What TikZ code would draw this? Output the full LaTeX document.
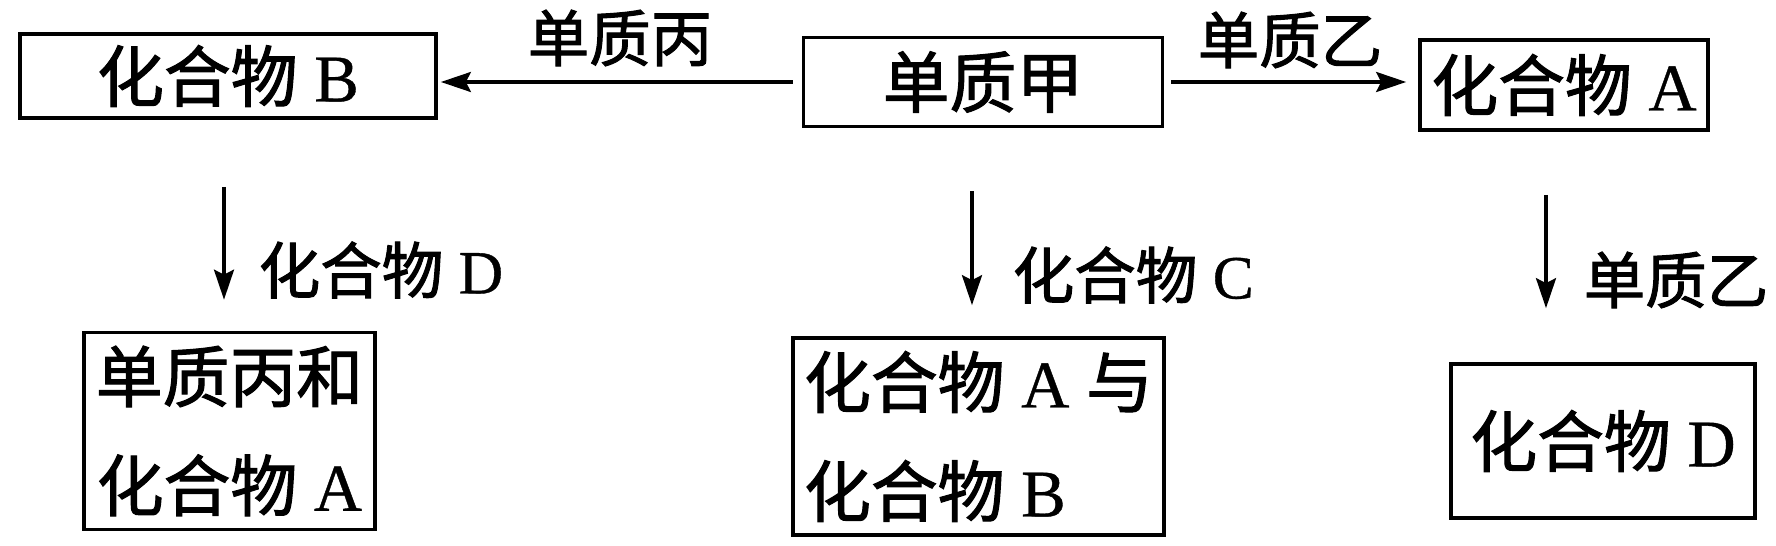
\documentclass[tikz,border=0pt]{standalone}
\usepackage{fontspec}
\setmainfont{Liberation Serif}[FakeBold=0.6]
\newfontfamily\cjk{Noto Sans CJK SC}[FakeBold=1.6]
\newcommand\gap{\hspace{0.25em}}
\usetikzlibrary{arrows.meta}
\begin{document}
\begin{tikzpicture}[x=0.01cm,y=-0.01cm,
  box/.style={draw,line width=0.035cm,inner sep=0pt,font=\fontsize{19}{31}\selectfont},
  lbl/.style={inner sep=0pt,font=\fontsize{17.5}{20}\selectfont},
  arr/.style={line width=0.032cm,-{Stealth[length=0.3cm,width=0.2cm,inset=0.05cm]}}]
\useasboundingbox[fill=white] (0,0) rectangle (1776,546);
\node[box,minimum width=4.16cm,minimum height=0.84cm] (B) at (228,76) {{\cjk 化合物}\gap B};
\node[box,minimum width=3.59cm,minimum height=0.89cm] (J) at (983,82) {{\cjk 单质甲}};
\node[box,minimum width=2.88cm,minimum height=0.90cm] (A) at (1564,85) {{\cjk 化合物}\gap A};
\node[box,minimum width=2.91cm,minimum height=1.97cm,align=center] (L) at (229.5,431) {{\cjk 单质丙和}\\{\cjk 化合物}\gap A};
\node[box,minimum width=3.71cm,minimum height=1.97cm,align=left] (M) at (978.5,436.5) {{\cjk 化合物}\gap A\gap{\cjk 与}\\{\cjk 化合物}\gap B};
\node[box,minimum width=3.04cm,minimum height=1.54cm] (D) at (1603,441) {{\cjk 化合物}\gap D};
\node[lbl] (lJB) at (620,38) {{\cjk 单质丙}};
\node[lbl] (lJA) at (1290,40) {{\cjk 单质乙}};
\node[lbl,anchor=west] (lBL) at (258,270) {{\cjk 化合物}\gap D};
\node[lbl,anchor=west] (lJM) at (1012,275) {{\cjk 化合物}\gap C};
\node[lbl,anchor=west] (lAD) at (1583,280) {{\cjk 单质乙}};
\draw[arr,shorten <=0.09cm,shorten >=0.03cm] (J.west) -- (J.west -| B.east);
\draw[arr,shorten <=0.07cm,shorten >=0.12cm] (J.east) -- (J.east -| A.west);
\draw[arr,shorten <=0.67cm,shorten >=0.31cm] ([xshift=-0.04cm]B.south) -- ([xshift=-0.04cm]B.south |- L.north);
\draw[arr,shorten <=0.63cm,shorten >=0.31cm] ([xshift=-0.11cm]J.south) -- ([xshift=-0.11cm]J.south |- M.north);
\draw[arr,shorten <=0.63cm,shorten >=0.54cm] ([xshift=-0.18cm]A.south) -- ([xshift=-0.18cm]A.south |- D.north);
\end{tikzpicture}
\end{document}
